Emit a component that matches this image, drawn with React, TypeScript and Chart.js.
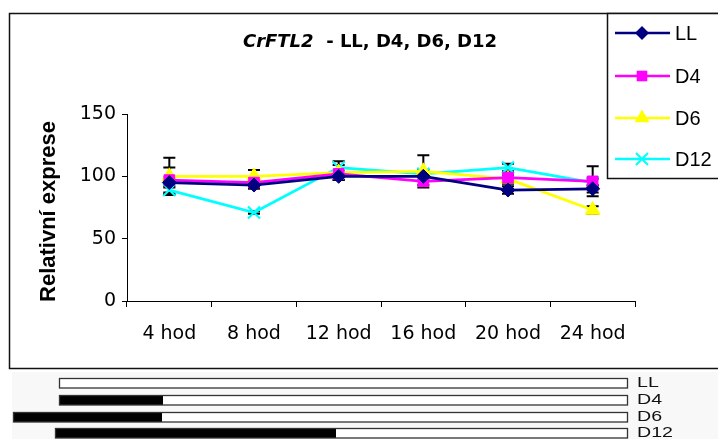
import React, { useEffect, useRef } from "react";
import { Chart, registerables } from "chart.js";

Chart.register(...registerables);

const categories = ["4 hod", "8 hod", "12 hod", "16 hod", "20 hod", "24 hod"];
const seriesNames = ["LL", "D4", "D6", "D12"];
const llValues = [95, 93, 100, 100, 89, 90];
const d4Values = [97, 95, 102, 96, 99, 96];
const d6Values = [100, 100, 103, 104, 98, 73];
const d12Values = [89, 71, 107, 102, 107, 95];
const llErr = [4, 3, 3, 3, 3, 3];
const d4Err = [10, 4, 2, 3, 2, 12];
const d6Err = [15, 5, 6, 13, 4, 3];
const d12Err = [3, 1, 5, 3, 3, 3];
const yTicks = [0, 50, 100, 150];
const photoLabels = ["LL", "D4", "D6", "D12"];

const colors = ["#000080", "#FF00FF", "#FFFF00", "#00FFFF"];
const styles = ["rectRot", "rect", "triangle", "crossRot"];
const radii = [7, 7.5, 8.5, 8.5];

function drawMarker(ctx: CanvasRenderingContext2D, style: string, x: number, y: number, r: number, color: string) {
  ctx.save();
  ctx.fillStyle = color;
  ctx.strokeStyle = color;
  ctx.lineWidth = 2;
  ctx.beginPath();
  if (style === "rectRot") {
    ctx.moveTo(x - r, y);
    ctx.lineTo(x, y - r);
    ctx.lineTo(x + r, y);
    ctx.lineTo(x, y + r);
    ctx.closePath();
    ctx.fill();
  } else if (style === "rect") {
    const s = Math.SQRT1_2 * r;
    ctx.rect(x - s, y - s, 2 * s, 2 * s);
    ctx.fill();
  } else if (style === "triangle") {
    for (let i = 0; i < 3; i++) {
      const a = -Math.PI / 2 + (i * 2 * Math.PI) / 3;
      const px = x + Math.cos(a) * r;
      const py = y + Math.sin(a) * r;
      if (i === 0) ctx.moveTo(px, py);
      else ctx.lineTo(px, py);
    }
    ctx.closePath();
    ctx.fill();
  } else {
    const o = Math.SQRT1_2 * r;
    ctx.moveTo(x - o, y - o);
    ctx.lineTo(x + o, y + o);
    ctx.moveTo(x - o, y + o);
    ctx.lineTo(x + o, y - o);
    ctx.stroke();
  }
  ctx.restore();
}

const errors = [llErr, d4Err, d6Err, d12Err];

const decorPlugin = {
  id: "decor",
  beforeDatasetsDraw(chart: any) {
    const ctx = chart.ctx as CanvasRenderingContext2D;
    const xs = chart.scales.x;
    const ys = chart.scales.y;
    ctx.save();
    ctx.strokeStyle = "#000";
    ctx.lineWidth = 2;
    chart.data.datasets.forEach((ds: any, di: number) => {
      ds.data.forEach((v: number, i: number) => {
        const e = errors[di][i];
        const x = xs.getPixelForValue(i);
        const yt = ys.getPixelForValue(v + e);
        const yb = ys.getPixelForValue(v - e);
        ctx.beginPath();
        ctx.moveTo(x, yt);
        ctx.lineTo(x, yb);
        ctx.moveTo(x - 6, yt);
        ctx.lineTo(x + 6, yt);
        ctx.moveTo(x - 6, yb);
        ctx.lineTo(x + 6, yb);
        ctx.stroke();
      });
    });
    ctx.restore();
  },
  afterDraw(chart: any) {
    const ctx = chart.ctx as CanvasRenderingContext2D;
    ctx.save();
    // outer frame
    ctx.strokeStyle = "#111";
    ctx.lineWidth = 1.5;
    ctx.strokeRect(9.5, 13.5, 720, 355);

    // title
    ctx.fillStyle = "#000";
    ctx.textBaseline = "alphabetic";
    const f1 = "italic bold 18px 'DejaVu Sans'";
    const f2 = "bold 18px 'DejaVu Sans'";
    const t1 = "CrFTL2";
    const t2 = "  - LL, D4, D6, D12";
    ctx.font = f1;
    const w1 = ctx.measureText(t1).width;
    ctx.font = f2;
    const w2 = ctx.measureText(t2).width;
    const tx = 370 - (w1 + w2) / 2;
    ctx.font = f1;
    ctx.textAlign = "left";
    ctx.fillText(t1, tx, 47);
    ctx.font = f2;
    ctx.fillText(t2, tx + w1, 47);

    // y-axis title
    ctx.save();
    ctx.translate(55, 211.5);
    ctx.rotate(-Math.PI / 2);
    ctx.font = "bold 22px 'Liberation Sans'";
    ctx.textAlign = "center";
    ctx.fillText("Relativní exprese", 0, 0);
    ctx.restore();

    // legend
    ctx.fillStyle = "#fff";
    ctx.fillRect(608, 14, 120, 164);
    ctx.strokeStyle = "#111";
    ctx.lineWidth = 1.5;
    ctx.strokeRect(607.5, 13.5, 200, 165);
    const ly = [33, 76, 118, 159];
    chart.data.datasets.forEach((ds: any, di: number) => {
      const y = ly[di];
      ctx.strokeStyle = colors[di];
      ctx.lineWidth = 2.5;
      ctx.beginPath();
      ctx.moveTo(615, y);
      ctx.lineTo(670, y);
      ctx.stroke();
      drawMarker(ctx, styles[di], 642, y, radii[di], colors[di]);
      ctx.fillStyle = "#000";
      ctx.font = "20px 'Liberation Sans'";
      ctx.textAlign = "left";
      ctx.textBaseline = "middle";
      ctx.fillText(ds.label, 675, y + 1);
    });

    // photoperiod bars
    ctx.fillStyle = "#f8f8f8";
    ctx.fillRect(12, 372, 706, 67);
    const barTop = [378, 395, 412, 428];
    const barStart = [59, 59, 13, 55];
    const darkEnd = [59, 163, 162, 336];
    const barEnd = 627;
    photoLabels.forEach((lab, i) => {
      const y = barTop[i];
      ctx.fillStyle = "#fff";
      ctx.fillRect(barStart[i], y, barEnd - barStart[i], 10);
      if (darkEnd[i] > barStart[i]) {
        ctx.fillStyle = "#000";
        ctx.fillRect(barStart[i], y, darkEnd[i] - barStart[i], 10);
      }
      ctx.strokeStyle = "#333";
      ctx.lineWidth = 1.3;
      ctx.strokeRect(barStart[i] + 0.5, y + 0.5, barEnd - barStart[i], 9.5);
      ctx.save();
      ctx.translate(637, y + 5.5);
      ctx.scale(1.4, 1);
      ctx.fillStyle = "#111";
      ctx.font = "14px 'Liberation Sans'";
      ctx.textAlign = "left";
      ctx.textBaseline = "middle";
      ctx.fillText(lab, 0, 0);
      ctx.restore();
    });
    ctx.restore();
  },
};

export default function App() {
  const ref = useRef<HTMLCanvasElement | null>(null);
  useEffect(() => {
    if (!ref.current) return;
    const values = [llValues, d4Values, d6Values, d12Values];
    const chart = new Chart(ref.current, {
      type: "line",
      data: {
        labels: categories,
        datasets: seriesNames.map((name, i) => ({
          label: name,
          data: values[i],
          borderColor: colors[i],
          backgroundColor: colors[i],
          borderWidth: 2.8,
          pointStyle: styles[i] as any,
          pointRadius: radii[i],
          pointBorderWidth: i === 3 ? 2.2 : 1,
          pointBackgroundColor: colors[i],
          pointBorderColor: colors[i],
          tension: 0,
          fill: false,
        })),
      },
      options: {
        animation: false,
        responsive: false,
        devicePixelRatio: 1,
        layout: { padding: { left: 0, top: 114, right: 83, bottom: 98 } },
        plugins: { legend: { display: false }, title: { display: false }, tooltip: { enabled: false } },
        scales: {
          x: {
            offset: true,
            grid: { display: true, drawOnChartArea: false, drawTicks: true, tickLength: 6, offset: true, color: "#000" },
            border: { color: "#000", width: 1 },
            ticks: { color: "#000", font: { family: "'DejaVu Sans'", size: 19 }, padding: 16, maxRotation: 0 },
            afterFit: (s: any) => {
              s.height = 40;
            },
          },
          y: {
            min: 0,
            max: 150,
            afterBuildTicks: (s: any) => {
              s.ticks = yTicks.map((v) => ({ value: v }));
            },
            grid: { display: true, drawOnChartArea: false, drawTicks: true, tickLength: 5, color: "#000" },
            border: { color: "#000", width: 1 },
            ticks: { color: "#000", font: { family: "'DejaVu Sans'", size: 19 }, padding: 6 },
            afterFit: (s: any) => {
              s.width = 127;
            },
          },
        },
      },
      plugins: [decorPlugin],
    });
    return () => chart.destroy();
  }, []);
  return (
    <div style={{ position: "absolute", left: 0, top: 0, width: 718, height: 439, background: "#fff" }}>
      <canvas ref={ref} width={718} height={439} />
    </div>
  );
}
